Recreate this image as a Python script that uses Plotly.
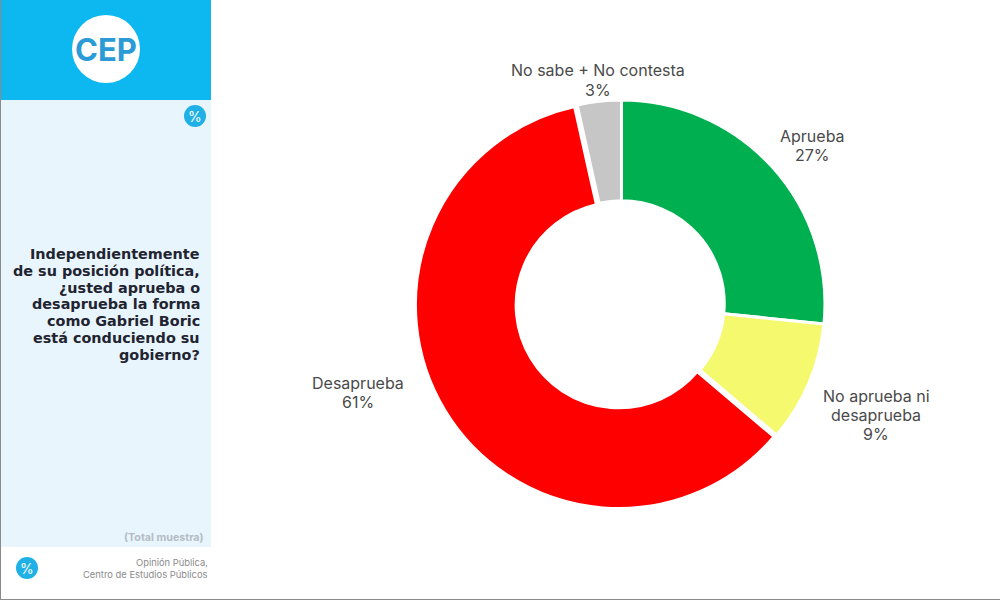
import plotly.graph_objects as go

labels = ['Aprueba', 'No aprueba ni desaprueba', 'Desaprueba', 'No sabe + No contesta']
# arc sizes measured off the ring, printed labels are rounded
values = [26.6, 9.6, 60.3, 3.5]
shown = ['Aprueba<br>27%', 'No aprueba ni<br>desaprueba<br>9%', 'Desaprueba<br>61%', 'No sabe + No contesta<br>3%']
label_x = [812, 876, 358, 598]
label_y = [145.5, 415, 392, 80]
colors = ['#00B050', '#F5F96E', '#FF0000', '#C6C6C6']
pulls = [0, 0, 0.015, 0]

question = ['Independientemente', 'de su posición política,', '¿usted aprueba o',
            'desaprueba la forma', 'como Gabriel Boric', 'está conduciendo su', 'gobierno?']

W, H = 1000, 600
LABEL_FONT = 'Inter'
BOLD_FONT = 'DejaVu Sans'

def px(x):
    return x / W

def py(y):
    return 1 - y / H

fig = go.Figure(go.Pie(
    labels=labels,
    values=values,
    hole=0.505,
    sort=False,
    direction='clockwise',
    rotation=0,
    pull=pulls,
    textinfo='none',
    showlegend=False,
    marker=dict(colors=colors, line=dict(color='white', width=3)),
    domain=dict(x=[px(415), px(828)], y=[py(510), py(97)]),
))

def box(x0, y0, x1, y1, color):
    return dict(type='rect', xref='paper', yref='paper', layer='below',
                x0=px(x0), x1=px(x1), y0=py(y0), y1=py(y1),
                fillcolor=color, line_width=0)

def dot(cx, cy, r, color):
    return dict(type='circle', xref='paper', yref='paper', layer='below',
                x0=px(cx - r), x1=px(cx + r), y0=py(cy + r), y1=py(cy - r),
                fillcolor=color, line_width=0)

shapes = [
    box(0, 0, 211, 100, '#0DB7EF'),
    box(0, 100, 211, 547, '#E8F5FD'),
    box(0, 0, 1, 600, '#8A8A8A'),
    box(0, 599, 1000, 600, '#8A8A8A'),
    dot(106, 49, 34, 'white'),
    dot(195, 116, 11, '#1FB1E6'),
    dot(27, 568, 11, '#1FB1E6'),
]

def note(x, y, text, size, color, anchor='center', family=LABEL_FONT):
    return dict(x=px(x), y=py(y), xref='paper', yref='paper', text=text, showarrow=False,
                xanchor=anchor, yanchor='middle', align=anchor,
                font=dict(family=family, size=size, color=color))

# plotly's <br> leading is too open here, so each line gets its own annotation
def block(x, y, text, size, color, gap, anchor='center', family=LABEL_FONT):
    lines = text if isinstance(text, list) else text.split('<br>')
    top = y - gap * (len(lines) - 1) / 2
    return [note(x, top + i * gap, t, size, color, anchor, family) for i, t in enumerate(lines)]

notes = []
for x, y, t in zip(label_x, label_y, shown):
    notes += block(x, y, t, 16, '#4A4A4A', 19)
notes += block(202, 304.5, ['<b>' + q + '</b>' for q in question], 14.4, '#1F2430', 16.9,
               anchor='right', family=BOLD_FONT)
notes += block(210, 568, 'Opinión Pública,<br>Centro de Estudios Públicos', 9.4, '#8C8C8C', 12, anchor='right')
notes += [
    note(106, 49, '<b>CEP</b>', 31, '#2A9BD6'),
    note(195, 116, '%', 14, 'white'),
    note(27, 568, '%', 14, 'white'),
    note(206, 537, '<b>(Total muestra)</b>', 10.7, '#B4BCC4', anchor='right'),
]

fig.update_layout(
    width=W, height=H,
    margin=dict(l=0, r=0, t=0, b=0),
    paper_bgcolor='white',
    shapes=shapes,
    annotations=notes,
)

fig.write_html('out.html', config=dict(displayModeBar=False),
               post_script="document.body.style.margin='0';")
